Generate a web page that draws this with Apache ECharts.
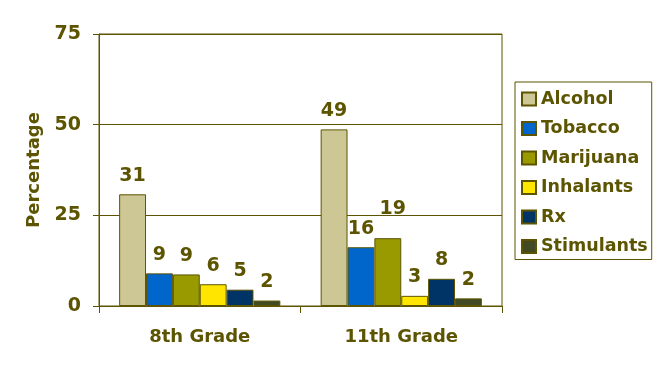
<!DOCTYPE html>
<html>
<head>
<meta charset="utf-8">
<script src="https://cdn.jsdelivr.net/npm/echarts@6/dist/echarts.min.js"></script>
<style>html,body{margin:0;padding:0;background:#fff;}#c{width:663px;height:372px;}</style>
</head>
<body>
<div id="c"></div>
<script>
const categories = ['8th Grade', '11th Grade'];
const seriesNames = ['Alcohol', 'Tobacco', 'Marijuana', 'Inhalants', 'Rx', 'Stimulants'];
const alcohol = [30.8, 48.7];
const tobacco = [9.0, 16.2];
const marijuana = [8.7, 18.7];
const inhalants = [6.0, 2.8];
const rx = [4.5, 7.5];
const stimulants = [1.5, 2.1];
const yTicks = [0, 25, 50, 75];

const values = [alcohol, tobacco, marijuana, inhalants, rx, stimulants];
const colors = ['#CCC794', '#0066CC', '#999900', '#FFE500', '#003366', '#414A22'];
const olive = '#5C5400';
const font = 'DejaVu Sans';

const chart = echarts.init(document.getElementById('c'), null, {renderer: 'canvas'});
const series = seriesNames.map((name, i) => ({
  name: name,
  type: 'bar',
  barGap: 0,
  barCategoryGap: '20%',
  itemStyle: {color: colors[i], borderColor: olive, borderWidth: 1},
  label: {
    show: true, position: 'top', distance: 9,
    color: olive, fontFamily: font, fontWeight: 'bold', fontSize: 19,
    formatter: p => Math.round(p.value)
  },
  data: values[i].map((v, j) => (i === 2 && j === 1)
    ? {value: v, label: {offset: [5, -11]}}
    : v)
}));

chart.setOption({
  animation: false,
  backgroundColor: '#fff',
  grid: {left: 99, right: 161, top: 34, bottom: 66, show: true, borderColor: olive, borderWidth: 1, backgroundColor: 'transparent'},
  legend: {
    orient: 'vertical', left: 515, top: 82,
    padding: [8, 4, 4, 6],
    itemWidth: 14, itemHeight: 13, itemGap: 11.5,
    borderColor: olive, borderWidth: 1,
    icon: 'rect',
    textStyle: {color: olive, fontFamily: font, fontWeight: 'bold', fontSize: 17.5},
    data: seriesNames
  },
  xAxis: {
    type: 'category', data: categories,
    axisLine: {lineStyle: {color: olive, width: 1}},
    axisTick: {show: true, length: 7, lineStyle: {color: olive}},
    axisLabel: {color: olive, fontFamily: font, fontWeight: 'bold', fontSize: 18, margin: 22}
  },
  yAxis: {
    type: 'value', min: yTicks[0], max: yTicks[yTicks.length - 1], interval: 25,
    name: 'Percentage', nameLocation: 'middle', nameGap: 54, nameRotate: 90,
    nameTextStyle: {color: olive, fontFamily: font, fontWeight: 'bold', fontSize: 18},
    axisLine: {show: true, lineStyle: {color: olive, width: 1}},
    axisTick: {show: true, length: 6, lineStyle: {color: olive}},
    axisLabel: {color: olive, fontFamily: font, fontWeight: 'bold', fontSize: 19, margin: 18},
    splitLine: {show: true, lineStyle: {color: olive, width: 1}}
  },
  series: series
});
</script>
</body>
</html>
